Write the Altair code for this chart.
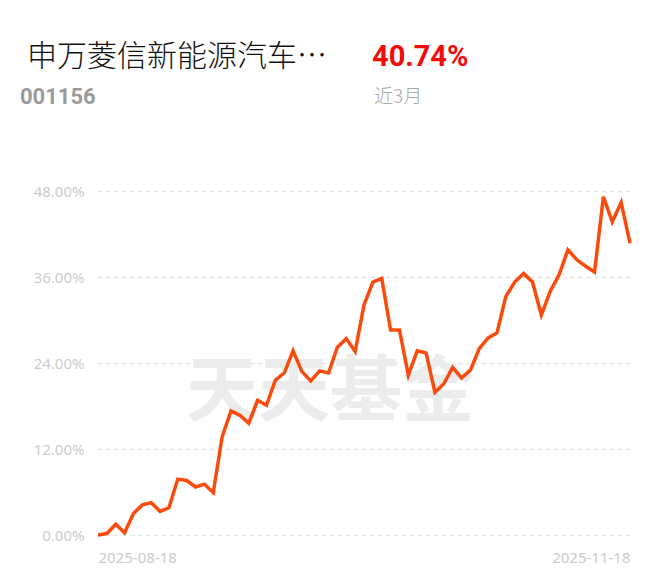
import altair as alt
import pandas as pd

dates = [
    "2025-08-18", "2025-08-19", "2025-08-20", "2025-08-21", "2025-08-22",
    "2025-08-25", "2025-08-26", "2025-08-27", "2025-08-28", "2025-08-29",
    "2025-09-01", "2025-09-02", "2025-09-03", "2025-09-04", "2025-09-05",
    "2025-09-08", "2025-09-09", "2025-09-10", "2025-09-11", "2025-09-12",
    "2025-09-15", "2025-09-16", "2025-09-17", "2025-09-18", "2025-09-19",
    "2025-09-22", "2025-09-23", "2025-09-24", "2025-09-25", "2025-09-26",
    "2025-09-29", "2025-09-30",
    "2025-10-09", "2025-10-10", "2025-10-13", "2025-10-14", "2025-10-15",
    "2025-10-16", "2025-10-17", "2025-10-20", "2025-10-21", "2025-10-22",
    "2025-10-23", "2025-10-24", "2025-10-27", "2025-10-28", "2025-10-29",
    "2025-10-30", "2025-10-31",
    "2025-11-03", "2025-11-04", "2025-11-05", "2025-11-06", "2025-11-07",
    "2025-11-10", "2025-11-11", "2025-11-12", "2025-11-13", "2025-11-14",
    "2025-11-17", "2025-11-18",
]
returns = [
    0.00, 0.2, 1.5, 0.3, 3.0, 4.2, 4.5, 3.3, 3.8, 7.8,
    7.6, 6.7, 7.1, 5.9, 13.7, 17.3, 16.7, 15.6, 18.8, 18.1,
    21.6, 22.6, 25.7, 22.8, 21.5, 22.9, 22.6, 26.2, 27.4, 25.6,
    32.1, 35.3, 35.8, 28.6, 28.6, 22.3, 25.7, 25.4, 19.9, 21.1,
    23.4, 21.9, 23.0, 26.0, 27.5, 28.2, 33.3, 35.3, 36.5, 35.3,
    30.7, 34.0, 36.3, 39.8, 38.4, 37.5, 36.7, 47.2, 43.7, 46.4,
    40.74,
]
y_ticks = [0, 12, 24, 36, 48]
x_labels = [dates[0], dates[-1]]

fund_name = "申万菱信新能源汽车…"
fund_code = "001156"
period_return = "40.74%"
period_label = "近3月"
watermark = "天天基金"

df = pd.DataFrame({"date": dates, "ret": returns})

W, H = 532, 344

base = alt.Chart(df)

line = base.mark_line(color="#FA4A0C", strokeWidth=3.5, strokeJoin="miter").encode(
    x=alt.X(
        "date:O",
        scale=alt.Scale(type="point", padding=0),
        sort=None,
        axis=alt.Axis(
            values=x_labels,
            title=None,
            labelAngle=0,
            domain=False,
            ticks=False,
            grid=False,
            labelColor="#cccccc",
            labelFontSize=15,
            labelFont="Noto Sans",
            labelPadding=15,
            labelAlign=alt.ExprRef(expr=f"datum.value == '{dates[0]}' ? 'left' : 'right'"),
        ),
    ),
    y=alt.Y(
        "ret:Q",
        scale=alt.Scale(domain=[0, 48], nice=False, zero=False),
        axis=alt.Axis(
            values=y_ticks,
            title=None,
            domain=False,
            ticks=False,
            grid=True,
            gridColor="#e4e4e4",
            gridDash=[4, 4],
            gridWidth=1.5,
            labelColor="#cccccc",
            labelFontSize=15,
            labelFont="Noto Sans",
            labelPadding=14,
            labelExpr="format(datum.value, '.2f') + '%'",
        ),
    ),
)

wm = alt.Chart(pd.DataFrame({"t": [watermark]})).mark_text(
    font="Noto Sans CJK SC", fontSize=72, fontWeight="bold", color="#ececec",
    align="center", baseline="middle",
).encode(text="t:N", x=alt.value(232), y=alt.value(202))

title = alt.Chart(pd.DataFrame({"t": [fund_name]})).mark_text(
    font="Noto Sans CJK SC", fontSize=30, fontWeight=300, color="#111111",
    align="left", baseline="middle",
).encode(text="t:N", x=alt.value(-71), y=alt.value(-134))

ret_txt = alt.Chart(pd.DataFrame({"t": [period_return]})).mark_text(
    font="Roboto", fontSize=29, fontWeight="bold", color="#F50A0A",
    align="left", baseline="middle",
).encode(text="t:N", x=alt.value(274), y=alt.value(-134))

code_txt = alt.Chart(pd.DataFrame({"t": [fund_code]})).mark_text(
    font="Roboto", fontSize=22, fontWeight="bold", color="#9a9a9a",
    align="left", baseline="middle",
).encode(text="t:N", x=alt.value(-78), y=alt.value(-94))

per_txt = alt.Chart(pd.DataFrame({"t": [period_label]})).mark_text(
    font="Noto Sans CJK SC", fontSize=19, fontWeight=300, color="#a8a8a8",
    align="left", baseline="middle",
).encode(text="t:N", x=alt.value(276), y=alt.value(-94))

chart = alt.layer(wm, line, title, ret_txt, code_txt, per_txt).properties(
    width=W, height=H,
    autosize=alt.AutoSizeParams(type="none"),
    padding={"left": 90, "top": 183, "right": 22, "bottom": 45},
).configure(
    background="white",
    view=alt.ViewConfig(stroke="transparent", strokeWidth=0),
)

chart.save("out.html", embed_options={"renderer": "svg", "actions": False})
